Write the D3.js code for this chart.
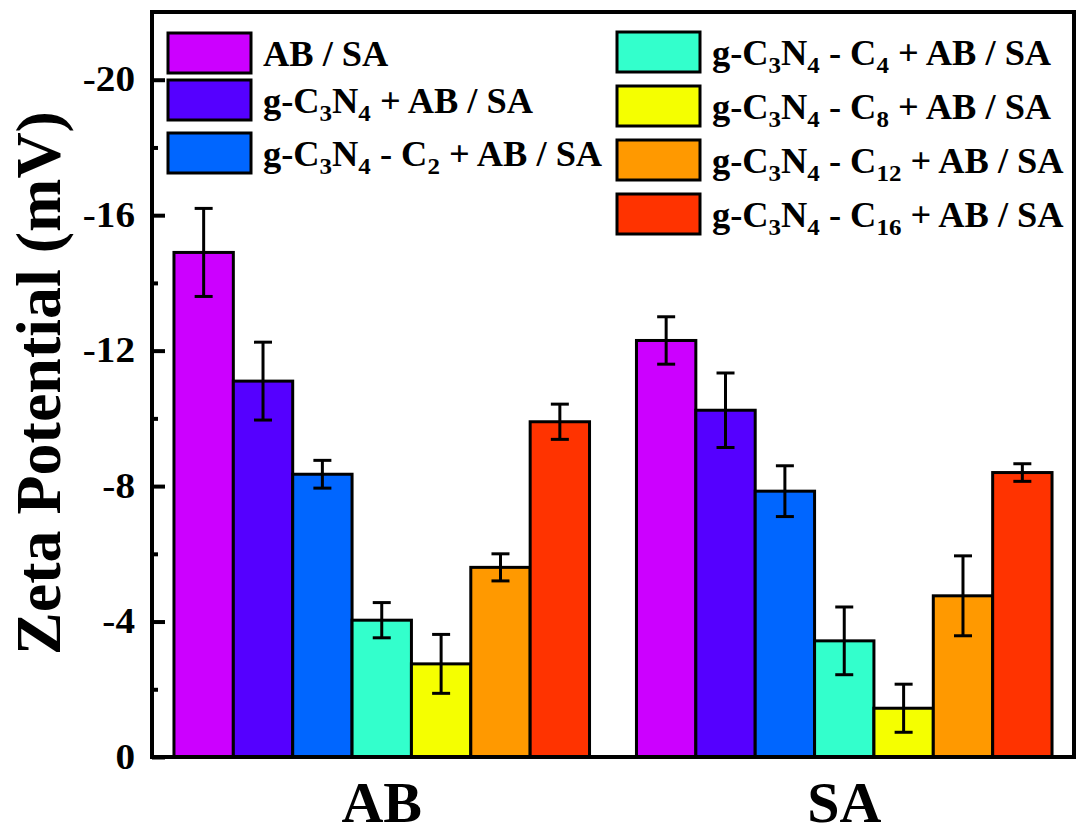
<!DOCTYPE html>
<html>
<head>
<meta charset="utf-8">
<script src="https://d3js.org/d3.v7.min.js"></script>
<style>
  body { margin: 0; background: #fff; }
  text { font-family: "Liberation Serif", "Times New Roman", serif; font-weight: bold; fill: #000; }
</style>
</head>
<body>
<div id="chart"></div>
<script>
// groups on the x axis
const groups = ["AB", "SA"];

// series (legend order), "_{n}" marks a subscript
const seriesNames = [
  "AB / SA",
  "g-C_{3}N_{4} + AB / SA",
  "g-C_{3}N_{4} - C_{2} + AB / SA",
  "g-C_{3}N_{4} - C_{4} + AB / SA",
  "g-C_{3}N_{4} - C_{8} + AB / SA",
  "g-C_{3}N_{4} - C_{12} + AB / SA",
  "g-C_{3}N_{4} - C_{16} + AB / SA"
];
const seriesColors = ["#cc00ff", "#5500ff", "#0066ff", "#33ffcc", "#f5ff00", "#ff9900", "#ff3300"];

// zeta potential (mV) and error, one value per series
const abValues = [-14.9, -11.1, -8.35, -4.04, -2.75, -5.6, -9.9];
const abErrors = [1.3, 1.15, 0.41, 0.52, 0.87, 0.4, 0.52];
const saValues = [-12.3, -10.24, -7.85, -3.43, -1.44, -4.76, -8.4];
const saErrors = [0.7, 1.1, 0.75, 1.0, 0.71, 1.18, 0.26];

const yMajorTicks = [0, -4, -8, -12, -16, -20];
const yMinorTicks = [-2, -6, -10, -14, -18];

const width = 1076, height = 836;
const margin = { top: 12, right: 2, bottom: 79, left: 152 };

const svg = d3.select("#chart").append("svg")
  .attr("width", width)
  .attr("height", height);

const y = d3.scaleLinear()
  .domain([0, -22])
  .range([height - margin.bottom, margin.top]);

const x0 = d3.scaleBand()
  .domain(groups)
  .range([margin.left, width - margin.right])
  .paddingInner(0.1015)
  .paddingOuter(0.0475);

const x1 = d3.scaleBand()
  .domain(d3.range(seriesNames.length))
  .range([0, x0.bandwidth()]);

const data = [
  { group: "AB", values: abValues, errors: abErrors },
  { group: "SA", values: saValues, errors: saErrors }
];

// bars
const g = svg.selectAll(".grp")
  .data(data)
  .enter().append("g")
  .attr("class", "grp")
  .attr("transform", d => `translate(${x0(d.group)},0)`);

g.selectAll("rect")
  .data(d => d.values.map((v, i) => ({ i, v, e: d.errors[i] })))
  .enter().append("rect")
  .attr("x", d => x1(d.i))
  .attr("y", d => y(d.v))
  .attr("width", x1.bandwidth())
  .attr("height", d => y(0) - y(d.v))
  .attr("fill", d => seriesColors[d.i])
  .attr("stroke", "#000")
  .attr("stroke-width", 3);

// error bars
const eb = g.selectAll(".err")
  .data(d => d.values.map((v, i) => ({ i, v, e: d.errors[i] })))
  .enter().append("g")
  .attr("class", "err")
  .attr("stroke", "#000")
  .attr("stroke-width", 3);

const cx = d => x1(d.i) + x1.bandwidth() / 2;
eb.append("line")
  .attr("x1", cx).attr("x2", cx)
  .attr("y1", d => y(d.v - d.e)).attr("y2", d => y(d.v + d.e));
eb.append("line")
  .attr("x1", d => cx(d) - 9).attr("x2", d => cx(d) + 9)
  .attr("y1", d => y(d.v - d.e)).attr("y2", d => y(d.v - d.e));
eb.append("line")
  .attr("x1", d => cx(d) - 9).attr("x2", d => cx(d) + 9)
  .attr("y1", d => y(d.v + d.e)).attr("y2", d => y(d.v + d.e));

// frame
svg.append("rect")
  .attr("x", margin.left)
  .attr("y", margin.top)
  .attr("width", width - margin.right - margin.left)
  .attr("height", y(0) - margin.top)
  .attr("fill", "none")
  .attr("stroke", "#000")
  .attr("stroke-width", 4);

// y axis, ticks pointing inward
const yAxis = svg.append("g")
  .attr("transform", `translate(${margin.left},0)`)
  .call(d3.axisLeft(y).tickValues(yMajorTicks).tickSize(-13).tickPadding(17).tickFormat(d => String(d)));
yAxis.select(".domain").remove();
yAxis.selectAll(".tick line").attr("stroke-width", 4);
yAxis.selectAll(".tick text")
  .style("font-size", "35px")
  .attr("font-family", null)
  .attr("x", -17 / 1.12)
  .attr("transform", "scale(1.12,1)");

const yMinor = svg.append("g")
  .attr("transform", `translate(${margin.left},0)`)
  .call(d3.axisLeft(y).tickValues(yMinorTicks).tickSize(-6).tickFormat(""));
yMinor.select(".domain").remove();
yMinor.selectAll(".tick line").attr("stroke-width", 4);

// x labels
svg.selectAll(".xlab")
  .data(groups)
  .enter().append("text")
  .attr("class", "xlab")
  .attr("x", d => x0(d) + x0.bandwidth() / 2)
  .attr("y", 822)
  .attr("text-anchor", "middle")
  .style("font-size", "58px")
  .text(d => d);

// y title
svg.append("text")
  .attr("transform", "translate(60,383) rotate(-90)")
  .attr("text-anchor", "middle")
  .style("font-size", "64px")
  .text("Zeta Potential (mV)");

// legend
const legendCols = [
  { x: 168, rows: [33, 80, 133] },
  { x: 617, rows: [32, 86, 140, 194] }
];
const legendItems = [];
let k = 0;
legendCols.forEach(c => c.rows.forEach(top => {
  legendItems.push({ i: k++, x: c.x, top });
}));

const lg = svg.selectAll(".leg")
  .data(legendItems)
  .enter().append("g")
  .attr("class", "leg")
  .attr("transform", d => `translate(${d.x},${d.top})`);

lg.append("rect")
  .attr("width", 83)
  .attr("height", 40)
  .attr("fill", d => seriesColors[d.i])
  .attr("stroke", "#000")
  .attr("stroke-width", 3);

lg.append("text")
  .attr("transform", "translate(95,33) scale(1.04,1)")
  .style("font-size", "35px")
  .each(function (d) {
    const t = d3.select(this);
    const parts = seriesNames[d.i].split(/_\{(\d+)\}/);
    parts.forEach((p, j) => {
      if (p === "") return;
      if (j % 2 === 1) {
        t.append("tspan").attr("dy", 8).style("font-size", "24px").text(p);
      } else {
        t.append("tspan").attr("dy", j > 0 ? -8 : 0).text(p);
      }
    });
  });
</script>
</body>
</html>
